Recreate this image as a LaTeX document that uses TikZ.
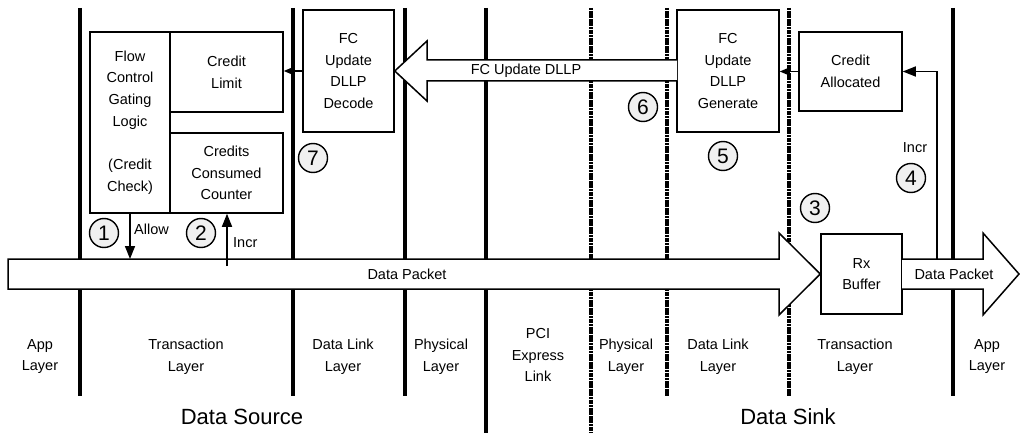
\documentclass[tikz,border=0pt]{standalone}
\usepackage{fontspec}
\setmainfont{Liberation Sans}
\usetikzlibrary{arrows.meta}
\tikzset{
  vline/.style={line width=3.2pt},
  dline/.style={line width=3.2pt, dash pattern=on 2.2pt off 0.5pt},
  blk/.style={draw, line width=1.5pt, fill=white, inner sep=0pt, align=center, font=\fontsize{14.5}{21.7}\selectfont},
  bigarrow/.style={draw, line width=1.5pt, fill=white, line join=miter},
  num/.style={circle, draw, line width=1.4pt, fill=gray!12, minimum size=29pt, inner sep=0pt, font=\fontsize{21}{21}\selectfont},
  lbl/.style={align=center, font=\fontsize{14.5}{21.7}\selectfont, inner sep=0pt},
  big/.style={font=\fontsize{22}{22}\selectfont, inner sep=0pt},
  conn/.style={line width=1.5pt, -{Triangle[length=13pt,width=10pt]}},
  sconn/.style={line width=1.5pt, -{Triangle[length=10pt,width=8pt]}},
}
\begin{document}
\begin{tikzpicture}[x=1pt,y=-1pt]
\useasboundingbox (0,0) rectangle (1020,433);
% layer boundaries
\draw[vline] (80,8) -- (80,396);
\draw[vline] (293,8) -- (293,396);
\draw[vline] (405,8) -- (405,396);
\draw[vline] (486,8) -- (486,433);
\draw[dline] (591,8) -- (591,433);
\draw[dline] (667,8) -- (667,396);
\draw[dline] (789,8) -- (789,396);
\draw[vline] (953,8) -- (953,396);
% boxes
\node[blk, minimum width=80pt, minimum height=181pt] (fcgl) at (130,122.5)
  {Flow\\Control\\Gating\\Logic\\[21.7pt](Credit\\Check)};
\node[blk, minimum width=113pt, minimum height=80pt] (climit) at (226.5,72) {Credit\\Limit};
\node[blk, minimum width=113pt, minimum height=80pt] (ccc) at (226.5,173) {Credits\\Consumed\\Counter};
\node[blk, minimum width=91pt, minimum height=122pt] (dec) at (348.5,71) {FC\\Update\\DLLP\\Decode};
\node[blk, minimum width=102pt, minimum height=122pt] (gen) at (728,71) {FC\\Update\\DLLP\\Generate};
\node[blk, minimum width=103pt, minimum height=79pt] (calloc) at (850.5,71.5) {Credit\\Allocated};
\node[blk, minimum width=81pt, minimum height=80pt] (rx) at (861.5,274) {Rx\\Buffer};
% big arrows
\draw[bigarrow] (8,259) -- (779,259) -- (779,233) -- (rx.west) -- (779,315) -- (779,289) -- (8,289) -- cycle;
\draw[bigarrow] (902,259) -- (983,259) -- (983,233) -- (1019,274) -- (983,315) -- (983,289) -- (902,289);
\draw[bigarrow] (677,60) -- (427,60) -- (427,41) -- (dec.east) -- (427,101) -- (427,81) -- (677,81);
\node[lbl] (dp1) at (407,274) {Data Packet};
\node[lbl] (dp2) at (954,274) {Data Packet};
\node[lbl] (fcu) at (526,71) {FC Update DLLP};
% connectors
\draw[sconn] (dec.west) -- (dec.west -| climit.east);
\draw[sconn] (calloc.west) -- (calloc.west -| gen.east);
\coordinate (tap) at (937,259);
\draw[conn] (tap) |- (calloc.east);
\coordinate (allowEnd) at (130,259);
\draw[conn] (fcgl.south) -- (allowEnd);
\coordinate (incrStart) at (227,266);
\draw[conn] (incrStart) -- (incrStart |- ccc.south);
\node[lbl, anchor=west] (allow) at (134,229) {Allow};
\node[lbl, anchor=west] (incr1) at (233,243) {Incr};
\node[lbl] (incr2) at (915,148) {Incr};
% step numbers
\node[num] (n1) at (104,233) {1};
\node[num] (n2) at (201,233) {2};
\node[num] (n3) at (815,208) {3};
\node[num] (n4) at (911,178) {4};
\node[num] (n5) at (723,156) {5};
\node[num] (n6) at (643,107) {6};
\node[num] (n7) at (313,158) {7};
% layer labels
\node[lbl] (l1) at (40,356.5) {App\\Layer};
\node[lbl] (l2) at (186,356.5) {Transaction\\Layer};
\node[lbl] (l3) at (343,356.5) {Data Link\\Layer};
\node[lbl] (l4) at (441,356.5) {Physical\\Layer};
\node[lbl] (l5) at (538,355) {PCI\\Express\\Link};
\node[lbl] (l6) at (626,356.5) {Physical\\Layer};
\node[lbl] (l7) at (718,356.5) {Data Link\\Layer};
\node[lbl] (l8) at (855,356.5) {Transaction\\Layer};
\node[lbl] (l9) at (987,356.5) {App\\Layer};
\node[big] (src) at (242,417) {Data Source};
\node[big] (snk) at (788,417) {Data Sink};
\end{tikzpicture}
\end{document}
